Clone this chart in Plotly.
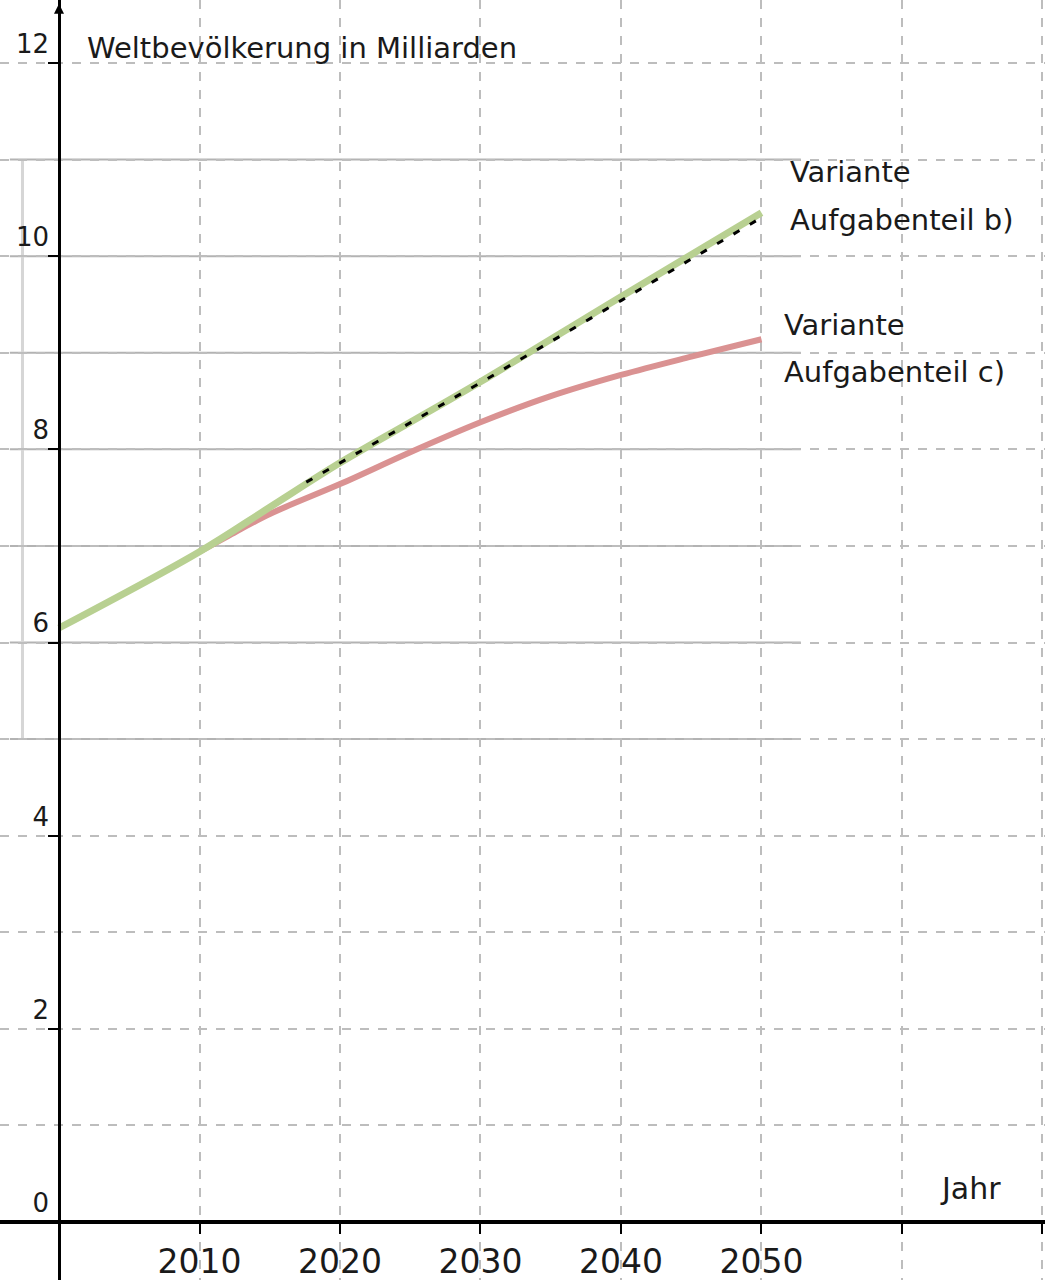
import plotly.graph_objects as go

# ---------------- data ----------------
years_b = [2000, 2010, 2015, 2020, 2025, 2030, 2040, 2050]
pop_b = [6.15, 6.94, 7.40, 7.86, 8.28, 8.70, 9.58, 10.45]

years_c = [2010, 2012, 2015, 2020, 2025, 2030, 2035, 2040, 2045, 2050]
pop_c = [6.94, 7.10, 7.33, 7.64, 7.97, 8.28, 8.55, 8.77, 8.96, 9.14]

years_fit = [2017.6, 2030, 2040, 2050]
pop_fit = [7.66, 8.69, 9.54, 10.40]

x_tick_vals = [2010, 2020, 2030, 2040, 2050, 2060, 2070]
x_tick_text = ["2010", "2020", "2030", "2040", "2050", "", ""]
y_tick_vals = [0, 2, 4, 6, 8, 10, 12]
y_tick_text = ["0", "2", "4", "6", "8", "10", "12"]
y_minor_vals = [1, 3, 5, 7, 9, 11]
overlay_levels = [5, 6, 7, 8, 9, 10, 11]

title_text = "Weltbevölkerung in Milliarden"
x_title = "Jahr"
label_b = ["Variante", "Aufgabenteil b)"]
label_c = ["Variante", "Aufgabenteil c)"]

# ---------------- layout constants ----------------
X0, X1 = 1995.8, 2070.18
Y0, Y1 = -0.6, 12.652
FONT = "DejaVu Sans"
GRID = "#bdbdbd"
TXT = "#1a1a1a"

fig = go.Figure()

fig.add_trace(go.Scatter(x=years_c, y=pop_c, mode="lines",
                         line=dict(color="rgb(218,146,146)", width=6, shape="spline", smoothing=1.0),
                         hoverinfo="skip", showlegend=False))
fig.add_trace(go.Scatter(x=years_b, y=pop_b, mode="lines",
                         line=dict(color="rgb(184,208,145)", width=7, shape="spline"),
                         hoverinfo="skip", showlegend=False))
fig.add_trace(go.Scatter(x=years_fit, y=pop_fit, mode="lines",
                         line=dict(color="black", width=3, dash="7px,12px"),
                         hoverinfo="skip", showlegend=False))

# faint solid overlay grid seen in the original
shapes = []
for lv in overlay_levels:
    shapes.append(dict(type="line", xref="x", yref="y", x0=1996.5, x1=2052.8, y0=lv, y1=lv,
                       line=dict(color="#b3b3b3", width=2), layer="below"))
shapes.append(dict(type="line", xref="x", yref="y", x0=1997.4, x1=1997.4,
                   y0=overlay_levels[0], y1=overlay_levels[-1],
                   line=dict(color="#d6d6d6", width=3), layer="below"))

annotations = [
    dict(x=2000, y=Y1 - 0.04, ax=2000, ay=12.3, xref="x", yref="y", axref="x", ayref="y",
         text="", showarrow=True, arrowhead=2, arrowsize=1, arrowwidth=2, arrowcolor="black"),
    dict(x=2001.85, y=12.155, xref="x", yref="y", text=title_text, showarrow=False,
         xanchor="left", yanchor="middle", font=dict(family=FONT, size=29, color=TXT)),
    dict(x=2051.89, y=10.87, xref="x", yref="y", text=label_b[0], showarrow=False,
         xanchor="left", yanchor="middle", font=dict(family=FONT, size=29, color=TXT)),
    dict(x=2051.89, y=10.375, xref="x", yref="y", text=label_b[1], showarrow=False,
         xanchor="left", yanchor="middle", font=dict(family=FONT, size=29, color=TXT)),
    dict(x=2051.46, y=9.288, xref="x", yref="y", text=label_c[0], showarrow=False,
         xanchor="left", yanchor="middle", font=dict(family=FONT, size=29, color=TXT)),
    dict(x=2051.46, y=8.80, xref="x", yref="y", text=label_c[1], showarrow=False,
         xanchor="left", yanchor="middle", font=dict(family=FONT, size=29, color=TXT)),
    dict(x=2064.91, y=0.352, xref="x", yref="y", text=x_title, showarrow=False,
         xanchor="center", yanchor="middle", font=dict(family=FONT, size=30, color=TXT)),
]

fig.update_layout(
    width=1045, height=1280,
    margin=dict(l=0, r=0, t=0, b=0),
    paper_bgcolor="white", plot_bgcolor="white",
    showlegend=False,
    shapes=shapes,
    annotations=annotations,
    xaxis=dict(
        range=[X0, X1], tickmode="array", tickvals=x_tick_vals, ticktext=x_tick_text,
        showgrid=True, gridcolor=GRID, griddash="dash", gridwidth=1.5,
        ticks="outside", ticklen=10, tickwidth=2, tickcolor="black",
        tickfont=dict(family=FONT, size=33, color=TXT),
        anchor="free", position=(0 - Y0) / (Y1 - Y0),
        showline=True, linecolor="black", linewidth=3.5, zeroline=False,
        fixedrange=True,
    ),
    yaxis=dict(
        range=[Y0, Y1], tickmode="array", tickvals=y_tick_vals, ticktext=y_tick_text,
        showgrid=True, gridcolor=GRID, griddash="dash", gridwidth=1.5,
        minor=dict(tickmode="array", tickvals=y_minor_vals, showgrid=True,
                   gridcolor=GRID, griddash="dash", gridwidth=1.5, ticks=""),
        ticks="outside", ticklen=10, tickwidth=2, tickcolor="black",
        ticklabelposition="outside top", ticklabelstandoff=4,
        tickfont=dict(family=FONT, size=26, color=TXT),
        anchor="free", position=(2000 - X0) / (X1 - X0),
        showline=True, linecolor="black", linewidth=2.5, zeroline=False,
        fixedrange=True,
    ),
)

fig.write_html("out.html", config={"displayModeBar": False},
               post_script="document.body.style.margin='0';")
